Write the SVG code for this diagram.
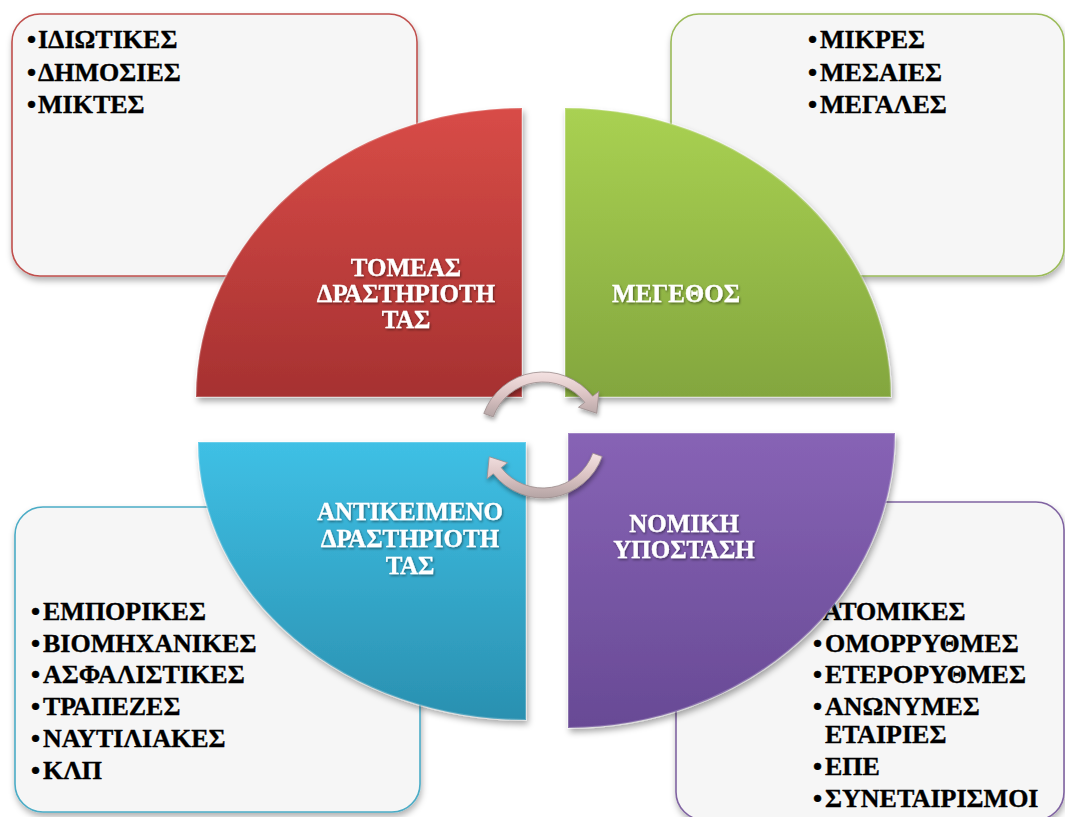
<svg xmlns="http://www.w3.org/2000/svg" width="1065" height="817" viewBox="0 0 1065 817">
<defs>
<style>
.box{fill:#f6f6f6;stroke-width:1.6;filter:url(#bsh)}
.item{font-family:"Liberation Serif","Times New Roman",serif;font-weight:bold;font-size:26px;fill:#000;stroke:#000;stroke-width:0.35}
.lbl{font-family:"Liberation Serif","Times New Roman",serif;font-weight:bold;font-size:25px;fill:#fff;stroke:#fff;stroke-width:0.3;filter:url(#tsh)}
.q{filter:url(#qsh);stroke:#fff;stroke-opacity:0.22;stroke-width:2}
.arr{fill:url(#ga);stroke:#9a8c8c;stroke-width:0.8;filter:url(#ash)}
</style>
<filter id="bsh" x="-10%" y="-10%" width="125%" height="130%"><feDropShadow dx="1" dy="4" stdDeviation="3" flood-color="#000" flood-opacity="0.3"/></filter>
<filter id="qsh" x="-10%" y="-10%" width="125%" height="130%"><feDropShadow dx="2" dy="4" stdDeviation="3" flood-color="#000" flood-opacity="0.35"/></filter>
<filter id="tsh" x="-10%" y="-20%" width="125%" height="150%"><feDropShadow dx="1" dy="1.5" stdDeviation="1" flood-color="#000" flood-opacity="0.45"/></filter>
<filter id="ash" x="-20%" y="-20%" width="150%" height="150%"><feDropShadow dx="1" dy="3" stdDeviation="2" flood-color="#000" flood-opacity="0.35"/></filter>
<linearGradient id="gr" x1="0" y1="0" x2="0" y2="1"><stop offset="0" stop-color="#d84c47"/><stop offset="1" stop-color="#a63131"/></linearGradient>
<linearGradient id="gg" x1="0" y1="0" x2="0" y2="1"><stop offset="0" stop-color="#a9d152"/><stop offset="1" stop-color="#83a63e"/></linearGradient>
<linearGradient id="gp" x1="0" y1="0" x2="0" y2="1"><stop offset="0" stop-color="#8763b5"/><stop offset="1" stop-color="#684a95"/></linearGradient>
<linearGradient id="gb" x1="0" y1="0" x2="0" y2="1"><stop offset="0" stop-color="#3fc0e5"/><stop offset="1" stop-color="#2a90b0"/></linearGradient>
<linearGradient id="ga" x1="0" y1="0" x2="0" y2="1"><stop offset="0" stop-color="#f4e2e2"/><stop offset="0.5" stop-color="#dcc4c4"/><stop offset="1" stop-color="#b4a4a4"/></linearGradient>
</defs>
<rect width="1065" height="817" fill="#fff"/>

<g id="node-tomeas">
<rect class="box" x="12" y="14" width="405" height="262" rx="28" stroke="#c0504d"/>
<text class="item" x="27" y="48">•<tspan x="38">ΙΔΙΩΤΙΚΕΣ</tspan></text>
<text class="item" x="27" y="81">•<tspan x="38">ΔΗΜΟΣΙΕΣ</tspan></text>
<text class="item" x="27" y="113">•<tspan x="38">ΜΙΚΤΕΣ</tspan></text>
<path class="q" fill="url(#gr)" d="M522,397 L196,397 A326,289 0 0 1 522,108 Z"/>
<text class="lbl" text-anchor="middle" x="406" y="276">ΤΟΜΕΑΣ</text>
<text class="lbl" text-anchor="middle" x="406" y="302">ΔΡΑΣΤΗΡΙΟΤΗ</text>
<text class="lbl" text-anchor="middle" x="406" y="328">ΤΑΣ</text>
</g>

<g id="node-megethos">
<rect class="box" x="671" y="14" width="393" height="262" rx="28" stroke="#9bbb59"/>
<text class="item" x="808" y="48">•<tspan x="820">ΜΙΚΡΕΣ</tspan></text>
<text class="item" x="808" y="81">•<tspan x="820">ΜΕΣΑΙΕΣ</tspan></text>
<text class="item" x="808" y="113">•<tspan x="820">ΜΕΓΑΛΕΣ</tspan></text>
<path class="q" fill="url(#gg)" d="M565,397 L565,108 A326,289 0 0 1 891,397 Z"/>
<text class="lbl" x="612" y="302">ΜΕΓΕΘΟΣ</text>
</g>

<g id="node-nomiki">
<rect class="box" x="676" y="502" width="388" height="318" rx="28" stroke="#8064a2"/>
<text class="item" x="813" y="620">•<tspan x="823">ΑΤΟΜΙΚΕΣ</tspan></text>
<text class="item" x="813" y="652">•<tspan x="825">ΟΜΟΡΡΥΘΜΕΣ</tspan></text>
<text class="item" x="813" y="683">•<tspan x="825">ΕΤΕΡΟΡΥΘΜΕΣ</tspan></text>
<text class="item" x="813" y="715">•<tspan x="825">ΑΝΩΝΥΜΕΣ</tspan></text>
<text class="item" x="825" y="743">ΕΤΑΙΡΙΕΣ</text>
<text class="item" x="813" y="775">•<tspan x="825">ΕΠΕ</tspan></text>
<text class="item" x="813" y="807">•<tspan x="825">ΣΥΝΕΤΑΙΡΙΣΜΟΙ</tspan></text>
<path class="q" fill="url(#gp)" d="M568,433 L895,433 A327,295 0 0 1 568,728 Z"/>
<text class="lbl" text-anchor="middle" x="684" y="532">ΝΟΜΙΚΗ</text>
<text class="lbl" text-anchor="middle" x="684" y="558">ΥΠΟΣΤΑΣΗ</text>
</g>

<g id="node-antikeimeno">
<rect class="box" x="15" y="507" width="405" height="305" rx="28" stroke="#4bacc6"/>
<text class="item" x="31" y="620">•<tspan x="43">ΕΜΠΟΡΙΚΕΣ</tspan></text>
<text class="item" x="31" y="652">•<tspan x="43">ΒΙΟΜΗΧΑΝΙΚΕΣ</tspan></text>
<text class="item" x="31" y="683">•<tspan x="43">ΑΣΦΑΛΙΣΤΙΚΕΣ</tspan></text>
<text class="item" x="31" y="715">•<tspan x="43">ΤΡΑΠΕΖΕΣ</tspan></text>
<text class="item" x="31" y="747">•<tspan x="43">ΝΑΥΤΙΛΙΑΚΕΣ</tspan></text>
<text class="item" x="31" y="779">•<tspan x="43">ΚΛΠ</tspan></text>
<path class="q" fill="url(#gb)" d="M526,442 L526,720 A328,278 0 0 1 198,442 Z"/>
<text class="lbl" text-anchor="middle" x="410" y="520">ΑΝΤΙΚΕΙΜΕΝΟ</text>
<text class="lbl" text-anchor="middle" x="410" y="547">ΔΡΑΣΤΗΡΙΟΤΗ</text>
<text class="lbl" text-anchor="middle" x="410" y="574">ΤΑΣ</text>
</g>

<g id="connectors">
<path class="arr" d="M483.8,413.45 A63,63 0 0 1 592.65,396.21 L598.95,391.29 L596.78,413.27 L578.46,407.29 L584.77,402.37 A53,53 0 0 0 493.2,416.87 Z"/>
<path class="arr" d="M602.2,456.55 A63,63 0 0 1 493.35,473.79 L487.05,478.71 L489.22,456.73 L507.54,462.71 L501.23,467.63 A53,53 0 0 0 592.8,453.13 Z"/>
</g>
</svg>
